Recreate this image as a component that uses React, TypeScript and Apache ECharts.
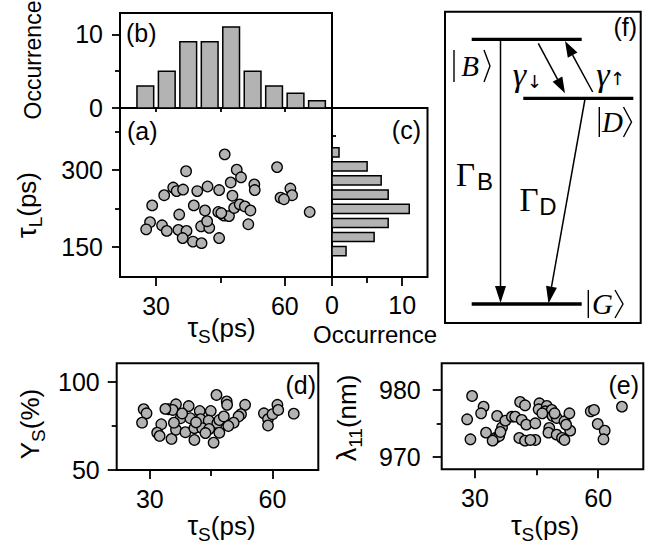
import React, { useEffect, useRef } from "react";
import * as echarts from "echarts";

// ---------------- data ----------------
// (a) tau_S vs tau_L
const aTauS = [46.0, 37.0, 48.8, 49.8, 47.4, 58.2, 52.9, 53.0, 34.0, 34.8, 36.3, 31.9, 39.6, 42.0, 44.7, 47.8,
  61.3, 61.7, 59.0, 59.8, 29.1, 38.8, 41.4, 35.4, 44.5, 45.5, 45.9, 47.0, 48.2, 49.5, 50.7, 52.0,
  65.8, 51.5, 28.6, 27.7, 31.4, 32.5, 35.2, 37.1, 36.2, 38.6, 40.6, 40.5, 42.4, 41.9, 44.7, 45.2];
const aTauL = [331, 298, 301, 286, 276, 306, 272, 261, 266, 259, 262, 251, 259, 268, 261, 250,
  264, 251, 246, 243, 231, 231, 221, 213, 218, 213, 211, 210, 226, 233, 229, 221,
  218, 194, 198, 184, 192, 181, 183, 181, 167, 160, 157, 190, 187, 200, 167, 216];

// (b) histogram of tau_S
const histSCenters = [27.5, 32.5, 37.5, 42.5, 47.5, 52.5, 57.5, 62.5, 67.5];
const histSCounts = [3, 5, 9, 9, 11, 5, 3, 2, 1];

// (c) histogram of tau_L
const histLCenters = [141.5, 169, 196.5, 224, 252, 280, 307.5, 335];
const histLCounts = [2, 6, 8, 11, 8, 7, 5, 1];

// (d) tau_S vs Y_S
const dTauS = [28.5, 29.2, 28.1, 32.8, 31.8, 32.4, 35.3, 34.6, 36.4, 35.6, 39.5, 42.2, 44.9, 46.3, 48.8, 48.9,
  53.3, 52.3, 51.7, 50.5, 37.5, 39.9, 42.4, 44.4, 46.5, 36.4, 38.7, 40.9, 42.8, 44.5, 47.0, 40.9,
  45.6, 35.9, 57.9, 58.9, 60.0, 61.2, 61.4, 58.9, 65.2, 47.0, 48.1, 33.8, 37.9, 41.3, 49.2, 43.6];
const dYield = [84.4, 82.1, 76.8, 75.9, 71.1, 69.3, 67.6, 84.4, 87.2, 84.0, 86.2, 83.4, 83.4, 92.5, 88.8, 86.9,
  86.9, 81.6, 80.3, 76.8, 79.3, 79.3, 78.8, 78.0, 76.5, 72.8, 71.4, 73.7, 73.7, 73.2, 71.1, 67.0,
  65.5, 76.8, 82.1, 78.8, 81.6, 86.9, 84.0, 75.2, 81.9, 78.3, 80.3, 84.6, 82.0, 77.0, 74.9, 70.9];

// (e) tau_S vs lambda_11
const eTauS = [29.3, 28.1, 28.9, 32.1, 31.5, 32.7, 35.4, 35.0, 35.9, 36.6, 37.4, 39.0, 39.8, 41.0, 42.2, 41.4,
  42.5, 44.7, 40.8, 42.2, 44.7, 45.7, 45.5, 47.5, 47.1, 48.7, 48.9, 49.9, 48.1, 47.9, 49.9, 51.8,
  53.0, 53.2, 51.2, 51.8, 58.2, 59.0, 59.9, 61.6, 61.3, 65.8, 46.4, 43.5, 36.2, 49.4, 52.2, 34.3];
const eLambda = [979.1, 975.6, 972.6, 977.5, 976.5, 973.6, 976.1, 972.8, 973.1, 974.4, 975.4, 976.0, 976.0, 978.2, 977.7, 975.5,
  974.8, 975.0, 972.8, 972.4, 972.5, 978.0, 977.1, 977.6, 976.8, 977.0, 976.1, 975.8, 974.3, 973.6, 973.3, 975.3,
  976.5, 973.9, 972.8, 972.5, 976.8, 977.0, 974.9, 973.9, 972.6, 977.5, 976.5, 972.5, 973.7, 976.5, 974.8, 972.4];

// tick values
const tauSMajor = [30, 60];
const tauSMinor = [45];
const tauLMajor = [150, 300];
const tauLMinor = [225, 375];
const occMajorB = [0, 10];
const occMinorB = [5];
const occMajorC = [0, 10];
const occMinorC = [5];
const cRightTicks = [145.4, 200.8, 256.2, 311.6, 367];
const yieldMajor = [50, 100];
const yieldMinor = [75];
const lambdaMajor = [970, 980];
const lambdaMinor = [975];

// ---------------- styling ----------------
const FONT = '"Liberation Sans", Arial, Helvetica, sans-serif';
const SERIF = '"Liberation Serif", "Times New Roman", serif';
const ARROWFONT = '"DejaVu Sans", sans-serif';
const GRAY = "#b3b3b3";
const BLACK = "#000";

function axis(
  dim: "x" | "y",
  gridIndex: number,
  position: string,
  min: number,
  max: number,
  ticks: number[],
  tickLen: number,
  labels: number[],
  margin: number,
  inside = false
) {
  return {
    type: "value",
    gridIndex,
    position,
    min,
    max,
    scale: true,
    axisLine: { show: false },
    splitLine: { show: false },
    axisTick: ticks.length
      ? { show: true, customValues: ticks, length: tickLen, inside, lineStyle: { color: BLACK, width: 1.8 } }
      : { show: false },
    axisLabel: labels.length
      ? {
          show: true,
          customValues: labels,
          margin,
          color: BLACK,
          fontSize: 25,
          lineHeight: 22,
          fontFamily: FONT,
          showMinLabel: true,
          showMaxLabel: true,
        }
      : { show: false },
  };
}

type Piece = { t: string; fs: number; dy?: number; fam?: string; it?: boolean };

export default function App() {
  const ref = useRef<HTMLDivElement>(null);

  useEffect(() => {
    if (!ref.current) return;
    const chart = echarts.init(ref.current, null, { renderer: "svg" });

    const mctx = document.createElement("canvas").getContext("2d")!;
    const tw = (p: Piece) => {
      mctx.font = `${p.it ? "italic " : ""}${p.fs}px ${p.fam || FONT}`;
      return mctx.measureText(p.t).width;
    };
    const txt = (
      t: string,
      x: number,
      y: number,
      fs: number,
      align = "center",
      fam = FONT,
      it = false,
      lh?: number
    ) => ({
      type: "text",
      x,
      y,
      silent: true,
      style: {
        text: t,
        fontSize: fs,
        fontFamily: fam,
        fontStyle: it ? "italic" : "normal",
        fill: BLACK,
        textAlign: align,
        align,
        textVerticalAlign: "middle",
        verticalAlign: "middle",
        ...(lh ? { lineHeight: lh } : {}),
      },
    });
    const compound = (pieces: Piece[], x: number, y: number, rotation = 0) => {
      const ws = pieces.map(tw);
      const total = ws.reduce((a, b) => a + b, 0);
      let cx = -total / 2;
      const children = pieces.map((p, i) => {
        const el = txt(p.t, cx, p.dy || 0, p.fs, "left", p.fam || FONT, !!p.it);
        cx += ws[i];
        return el;
      });
      return { type: "group", x, y, rotation, children };
    };

    const line = (x1: number, y1: number, x2: number, y2: number, w: number) => ({
      type: "line",
      silent: true,
      shape: { x1, y1, x2, y2 },
      style: { stroke: BLACK, lineWidth: w },
    });
    const arrow = (x1: number, y1: number, tx: number, ty: number, len = 16, hw = 5.5) => {
      const dx = tx - x1, dy = ty - y1;
      const L = Math.hypot(dx, dy);
      const ux = dx / L, uy = dy / L;
      const bx = tx - ux * len, by = ty - uy * len;
      const px = -uy * hw, py = ux * hw;
      return [
        line(x1, y1, bx, by, 1.5),
        {
          type: "polygon",
          silent: true,
          shape: { points: [[tx, ty], [bx + px, by + py], [bx - px, by - py]] },
          style: { fill: BLACK },
        },
      ];
    };
    const ket = (letter: string, barX: number, top: number, bot: number, letterX: number, brX: number, tipX: number) => {
      const mid = (top + bot) / 2;
      return [
        line(barX, top, barX, bot, 1.4),
        txt(letter, letterX, mid, 29, "center", SERIF, true),
        {
          type: "polyline",
          silent: true,
          shape: { points: [[brX, top], [tipX, mid], [brX, bot]] },
          style: { stroke: BLACK, lineWidth: 1.4, fill: null },
        },
      ];
    };

    const grids = [
      { left: 120, top: 108, width: 212, height: 169 }, // a
      { left: 120, top: 13, width: 212, height: 95 }, // b
      { left: 332, top: 108, width: 95.5, height: 169 }, // c
      { left: 116.7, top: 363.3, width: 201.6, height: 106.7 }, // d
      { left: 441.7, top: 363.3, width: 201.6, height: 106 }, // e
    ].map((g) => ({ ...g, show: true, borderColor: BLACK, borderWidth: 2, containLabel: false }));

    const xAxes = [
      axis("x", 0, "bottom", 21.6, 71.0, tauSMajor, 9, tauSMajor, 18), // 0 a
      axis("x", 0, "bottom", 21.6, 71.0, tauSMinor, 6, [], 0), // 1 a minor
      axis("x", 1, "bottom", 21.6, 71.0, [], 0, [], 0), // 2 b
      axis("x", 1, "top", 21.6, 71.0, [30, 45, 60], 4, [], 0, true), // 3 b top
      axis("x", 2, "bottom", 0, 13.6, occMajorC, 9, occMajorC, 17), // 4 c
      axis("x", 2, "bottom", 0, 13.6, occMinorC, 6, [], 0), // 5 c minor
      axis("x", 3, "bottom", 21.9, 71.2, tauSMajor, 9, tauSMajor, 18), // 6 d
      axis("x", 3, "bottom", 21.9, 71.2, tauSMinor, 6, [], 0), // 7 d minor
      axis("x", 4, "bottom", 21.9, 71.0, tauSMajor, 9, tauSMajor, 18), // 8 e
      axis("x", 4, "bottom", 21.9, 71.0, tauSMinor, 6, [], 0), // 9 e minor
    ];
    const yAxes = [
      axis("y", 0, "left", 90.6, 421.9, tauLMajor, 8, tauLMajor, 17), // 0 a
      axis("y", 0, "left", 90.6, 421.9, tauLMinor, 5, [], 0), // 1 a minor
      axis("y", 1, "left", 0, 12.9, occMajorB, 8, occMajorB, 17), // 2 b
      axis("y", 1, "left", 0, 12.9, occMinorB, 5, [], 0), // 3 b minor
      axis("y", 2, "left", 90.6, 421.9, [], 0, [], 0), // 4 c
      axis("y", 2, "right", 90.6, 421.9, cRightTicks, 4, [], 0), // 5 c right
      axis("y", 3, "left", 50, 110.4, yieldMajor, 9, yieldMajor, 17), // 6 d
      axis("y", 3, "left", 50, 110.4, yieldMinor, 5, [], 0), // 7 d minor
      axis("y", 4, "left", 968.1, 984.0, lambdaMajor, 9, lambdaMajor, 21), // 8 e
      axis("y", 4, "left", 968.1, 984.0, lambdaMinor, 5, [], 0), // 9 e minor
    ];

    const scatterStyle = {
      type: "scatter",
      symbol: "circle",
      symbolSize: 10.5,
      silent: true,
      itemStyle: { color: GRAY, borderColor: BLACK, borderWidth: 1.3, opacity: 1 },
    };

    const series = [
      {
        ...scatterStyle,
        xAxisIndex: 0,
        yAxisIndex: 0,
        data: aTauS.map((v, i) => [v, aTauL[i]]),
      },
      {
        type: "custom",
        xAxisIndex: 2,
        yAxisIndex: 2,
        silent: true,
        encode: { x: 0, y: 1 },
        data: histSCenters.map((c, i) => [c, histSCounts[i]]),
        renderItem: (_p: any, api: any) => {
          const c = api.value(0), v = api.value(1);
          const p0 = api.coord([c - 1.95, v]);
          const p1 = api.coord([c + 1.95, 0]);
          return {
            type: "rect",
            shape: { x: p0[0], y: p0[1], width: p1[0] - p0[0], height: p1[1] - p0[1] },
            style: { fill: GRAY, stroke: BLACK, lineWidth: 1.5 },
          };
        },
      },
      {
        type: "custom",
        xAxisIndex: 4,
        yAxisIndex: 4,
        silent: true,
        encode: { x: 0, y: 1 },
        data: histLCenters.map((c, i) => [histLCounts[i], c]),
        renderItem: (_p: any, api: any) => {
          const v = api.value(0), c = api.value(1);
          const p0 = api.coord([0, c + 9]);
          const p1 = api.coord([v, c - 9]);
          return {
            type: "rect",
            shape: { x: p0[0], y: p0[1], width: p1[0] - p0[0], height: p1[1] - p0[1] },
            style: { fill: GRAY, stroke: BLACK, lineWidth: 1.5 },
          };
        },
      },
      {
        ...scatterStyle,
        xAxisIndex: 6,
        yAxisIndex: 6,
        data: dTauS.map((v, i) => [v, dYield[i]]),
      },
      {
        ...scatterStyle,
        xAxisIndex: 8,
        yAxisIndex: 8,
        data: eTauS.map((v, i) => [v, eLambda[i]]),
      },
    ];

    const R = Math.PI / 2;
    const graphics: any[] = [
      // axis titles
      compound([{ t: "τ", fs: 27 }, { t: "S", fs: 19, dy: 8 }, { t: "(ps)", fs: 26 }], 221.5, 328),
      compound([{ t: "τ", fs: 27 }, { t: "S", fs: 19, dy: 8 }, { t: "(ps)", fs: 26 }], 221.5, 526),
      compound([{ t: "τ", fs: 27 }, { t: "S", fs: 19, dy: 8 }, { t: "(ps)", fs: 26 }], 545, 526),
      txt("Occurrence", 375, 334, 24, "center", FONT, false, 22),
      compound([{ t: "Occurrence", fs: 23 }], 33, 60, R),
      compound([{ t: "τ", fs: 27 }, { t: "L", fs: 19, dy: 8 }, { t: "(ps)", fs: 26 }], 27, 205, R),
      compound([{ t: "Y", fs: 26 }, { t: "S", fs: 19, dy: 8 }, { t: "(%)", fs: 26 }], 30, 424, R),
      compound([{ t: "λ", fs: 27 }, { t: "11", fs: 19, dy: 8 }, { t: "(nm)", fs: 26 }], 347, 418, R),
      // panel letters
      txt("(b)", 126, 33, 25, "left"),
      txt("(a)", 127, 131, 25, "left"),
      txt("(c)", 421, 130, 25, "right"),
      txt("(d)", 316, 385, 25, "right"),
      txt("(e)", 639, 385, 25, "right"),
      txt("(f)", 637, 27, 25, "right"),
      // diagram (f)
      {
        type: "rect",
        silent: true,
        shape: { x: 445, y: 11.7, width: 195.7, height: 311.3 },
        style: { fill: null, stroke: BLACK, lineWidth: 2 },
      },
      line(471.7, 39.3, 581.7, 39.3, 3.3),
      line(523.3, 98.3, 633.3, 98.3, 3.3),
      line(471.7, 304, 581.7, 304, 3.3),
      ...arrow(500.5, 40, 500.5, 303, 17, 5.5),
      ...arrow(585, 99, 548.5, 303.5, 17, 5.5),
      ...arrow(538.3, 43.3, 565, 93.3, 16, 5.5),
      ...arrow(592.7, 92, 565, 41, 16, 5.5),
      ...ket("B", 454, 50, 82, 470, 484, 490),
      ...ket("D", 599.3, 107, 137, 612.5, 623.5, 631.5),
      ...ket("G", 588.3, 290, 318, 602.5, 615, 623),
      txt("γ", 519.5, 74, 34, "center", SERIF, true),
      txt("↓", 534.5, 81, 18, "center", ARROWFONT),
      txt("γ", 603, 74, 34, "center", SERIF, true),
      txt("↑", 617.5, 78, 18, "center", ARROWFONT),
      txt("Γ", 465.5, 175, 33, "center", SERIF),
      txt("B", 485, 181, 24, "center", FONT),
      txt("Γ", 529, 200, 33, "center", SERIF),
      txt("D", 548, 206, 24, "center", FONT),
    ];

    chart.setOption({
      animation: false,
      backgroundColor: "#fff",
      grid: grids,
      xAxis: xAxes,
      yAxis: yAxes,
      series,
      graphic: graphics,
    });

    return () => chart.dispose();
  }, []);

  return (
    <div
      ref={ref}
      style={{ position: "fixed", left: 0, top: 0, width: 649, height: 543, background: "#fff" }}
    />
  );
}
